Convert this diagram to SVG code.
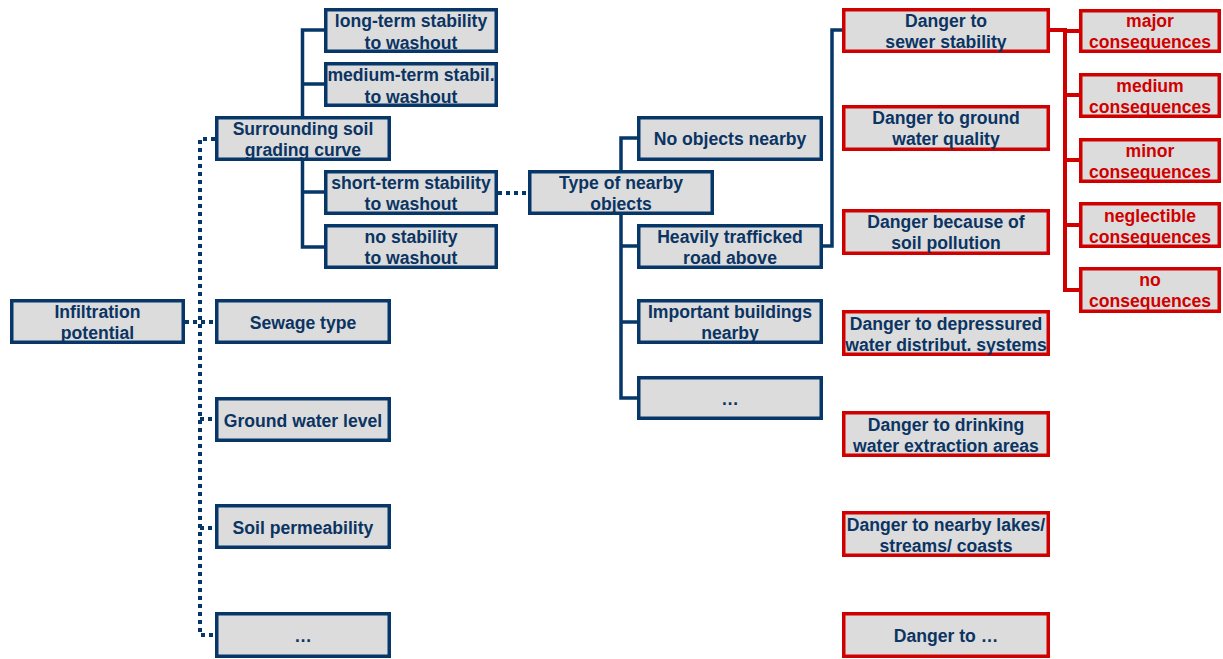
<svg xmlns="http://www.w3.org/2000/svg" width="1223" height="659" viewBox="0 0 1223 659">
<style>
.b rect{fill:#dcdcdc;stroke:#063768;stroke-width:3.5}
.r rect{fill:#dcdcdc;stroke:#d00000;stroke-width:3.5}
text{font-family:"Liberation Sans",Arial,sans-serif;font-weight:bold;font-size:17.6px;fill:#0b3463;text-anchor:middle}
.rt text{fill:#d00000}
.sol{fill:none;stroke:#063768;stroke-width:3.5}
.dot{fill:none;stroke:#063768;stroke-width:4;stroke-dasharray:4 4}
.red{fill:none;stroke:#d00000;stroke-width:4}
</style>
<g id="connectors">
<path class="dot" d="M215 139H200V635H215M185 322H215M200 419H215M200 528H215M498 193H528"/>
<path class="sol" d="M324 30H302.5V116M302.5 84H324M302.5 161V247H324M302.5 192H324"/>
<path class="sol" d="M637 138H621V170M621 215V398H637M621 246H637M621 322H637"/>
<path class="sol" d="M823 246H832V30H842"/>
<path class="red" d="M1050 30H1067M1065 30V290H1079M1065 31H1079M1065 95H1079M1065 160H1079M1065 225H1079"/>
</g>
<g id="n-long" class="b"><rect x="325.75" y="9.75" width="170.5" height="41.5"/><text x="411" y="27">long-term stability</text><text x="411" y="49">to washout</text></g>
<g id="n-medium" class="b"><rect x="325.75" y="63.75" width="170.5" height="41.5"/><text x="411" y="81">medium-term stabil.</text><text x="411" y="103">to washout</text></g>
<g id="n-surround" class="b"><rect x="216.75" y="117.75" width="172.5" height="41.5"/><text x="303" y="135">Surrounding soil</text><text x="303" y="156">grading curve</text></g>
<g id="n-short" class="b"><rect x="325.75" y="171.75" width="170.5" height="41.5"/><text x="411" y="189">short-term stability</text><text x="411" y="210">to washout</text></g>
<g id="n-nostab" class="b"><rect x="325.75" y="225.75" width="170.5" height="41.5"/><text x="411" y="243">no stability</text><text x="411" y="264">to washout</text></g>
<g id="n-infil" class="b"><rect x="11.75" y="300.75" width="171.5" height="41.5"/><text x="97.5" y="318">Infiltration</text><text x="97.5" y="339">potential</text></g>
<g id="n-sewage" class="b"><rect x="216.75" y="300.75" width="172.5" height="41.5"/><text x="303" y="329">Sewage type</text></g>
<g id="n-gwl" class="b"><rect x="216.75" y="398.75" width="172.5" height="41.5"/><text x="303" y="427">Ground water level</text></g>
<g id="n-perm" class="b"><rect x="216.75" y="505.75" width="172.5" height="41.5"/><text x="303" y="534">Soil permeability</text></g>
<g id="n-dots1" class="b"><rect x="216.75" y="613.75" width="172.5" height="42.5"/><text x="303" y="642">…</text></g>
<g id="n-type" class="b"><rect x="529.75" y="171.75" width="182.5" height="41.5"/><text x="621" y="189">Type of nearby</text><text x="621" y="210">objects</text></g>
<g id="n-noobj" class="b"><rect x="638.75" y="117.75" width="182.5" height="41.5"/><text x="730" y="145">No objects nearby</text></g>
<g id="n-heavy" class="b"><rect x="638.75" y="225.75" width="182.5" height="41.5"/><text x="730" y="243">Heavily trafficked</text><text x="730" y="264">road above</text></g>
<g id="n-important" class="b"><rect x="638.75" y="300.75" width="182.5" height="41.5"/><text x="730" y="318">Important buildings</text><text x="730" y="339">nearby</text></g>
<g id="n-dots2" class="b"><rect x="638.75" y="377.75" width="182.5" height="40.5"/><text x="730" y="405">…</text></g>
<g id="n-sewer" class="r"><rect x="843.75" y="9.75" width="204.5" height="41.5"/><text x="946" y="27">Danger to</text><text x="946" y="48">sewer stability</text></g>
<g id="n-gwq" class="r"><rect x="843.75" y="106.75" width="204.5" height="42.5"/><text x="946" y="124">Danger to ground</text><text x="946" y="145">water quality</text></g>
<g id="n-soilpol" class="r"><rect x="843.75" y="210.75" width="204.5" height="42.5"/><text x="946" y="228">Danger because of</text><text x="946" y="249">soil pollution</text></g>
<g id="n-depress" class="r"><rect x="843.75" y="311.75" width="204.5" height="42.5"/><text x="946" y="330">Danger to depressured</text><text x="946" y="351">water distribut. systems</text></g>
<g id="n-drink" class="r"><rect x="843.75" y="412.75" width="204.5" height="42.5"/><text x="946" y="431">Danger to drinking</text><text x="946" y="452">water extraction areas</text></g>
<g id="n-lakes" class="r"><rect x="843.75" y="512.75" width="204.5" height="42.5"/><text x="946" y="531">Danger to nearby lakes/</text><text x="946" y="552">streams/ coasts</text></g>
<g id="n-dangerdots" class="r"><rect x="843.75" y="613.75" width="204.5" height="42.5"/><text x="946" y="642">Danger to …</text></g>
<g id="n-major" class="r rt"><rect x="1080.75" y="10.75" width="138.5" height="40.5"/><text x="1150" y="27">major</text><text x="1150" y="48">consequences</text></g>
<g id="n-medium-c" class="r rt"><rect x="1080.75" y="74.75" width="138.5" height="41.5"/><text x="1150" y="92">medium</text><text x="1150" y="113">consequences</text></g>
<g id="n-minor" class="r rt"><rect x="1080.75" y="139.75" width="138.5" height="41.5"/><text x="1150" y="157">minor</text><text x="1150" y="178">consequences</text></g>
<g id="n-negl" class="r rt"><rect x="1080.75" y="203.75" width="138.5" height="42.5"/><text x="1150" y="222">neglectible</text><text x="1150" y="243">consequences</text></g>
<g id="n-no" class="r rt"><rect x="1080.75" y="268.75" width="138.5" height="42.5"/><text x="1150" y="286">no</text><text x="1150" y="307">consequences</text></g>
</svg>
